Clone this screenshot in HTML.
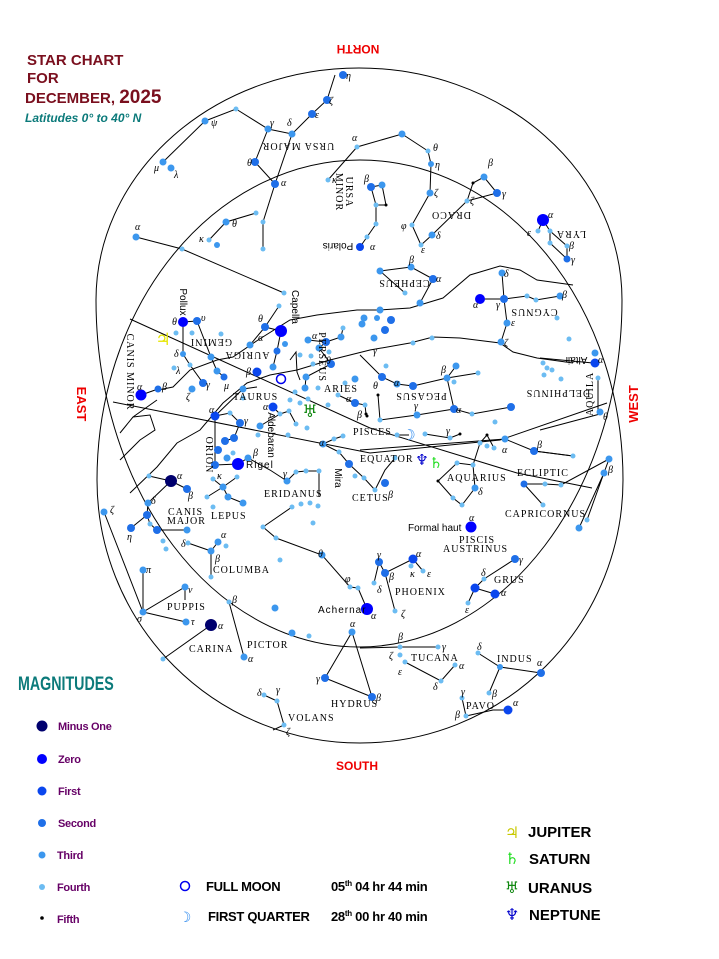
<!DOCTYPE html>
<html><head><meta charset="utf-8"><style>
html,body{margin:0;padding:0;background:#fff}
svg{display:block}
.m0{fill:#00006e}.m1{fill:#0000ff}.m2{fill:#0a46ee}.m3{fill:#1f6fe8}.m4{fill:#3c97ee}.m5{fill:#6cbcf2}.bk{fill:#000}
.l{stroke:#000;stroke-width:1;fill:none}
.c{font-family:"Liberation Serif",serif;font-size:10px;letter-spacing:1px;fill:#000}
.g{font-family:"Liberation Serif",serif;font-size:10px;font-style:italic;fill:#000}
.s{font-family:"Liberation Sans",sans-serif;font-size:10px;fill:#000}
.lg{font-family:"Liberation Sans",sans-serif;font-size:11px;font-weight:bold;fill:#660066;letter-spacing:-0.3px}
.bt{font-family:"Liberation Sans",sans-serif;font-size:13px;font-weight:bold;fill:#000;letter-spacing:-0.3px}
</style></head><body>
<svg width="719" height="959" viewBox="0 0 719 959" xmlns="http://www.w3.org/2000/svg">
<!-- titles -->
<text x="27" y="65" font-family="Liberation Sans,sans-serif" font-size="15" font-weight="bold" fill="#7a0f1e">STAR CHART</text>
<text x="27" y="83" font-family="Liberation Sans,sans-serif" font-size="15" font-weight="bold" fill="#7a0f1e">FOR</text>
<text x="25" y="103" font-family="Liberation Sans,sans-serif" font-size="15" font-weight="bold" fill="#7a0f1e">DECEMBER, <tspan font-size="19">2025</tspan></text>
<text x="25" y="122" font-family="Liberation Sans,sans-serif" font-size="12" font-weight="bold" font-style="italic" fill="#0b7a7a">Latitudes 0° to 40° N</text>

<text transform="translate(358,45) rotate(180)" text-anchor="middle" font-family="Liberation Sans,sans-serif" font-size="12" font-weight="bold" fill="#e00">NORTH</text>
<text transform="translate(77,404) rotate(90)" text-anchor="middle" font-family="Liberation Sans,sans-serif" font-size="13" font-weight="bold" fill="#e00">EAST</text>
<text transform="translate(638,404) rotate(-90)" text-anchor="middle" font-family="Liberation Sans,sans-serif" font-size="13" font-weight="bold" fill="#e00">WEST</text>
<text x="357" y="770" text-anchor="middle" font-family="Liberation Sans,sans-serif" font-size="12" font-weight="bold" fill="#e00">SOUTH</text>

<!-- horizon shapes -->
<path class="l" d="M96,300 A263,232 0 0 1 622,300 A263,347 0 0 1 96,300 Z"/>
<path class="l" d="M97,480 A263,320 0 0 1 623,480 A263,263 0 0 1 97,480 Z"/>

<!-- equator & ecliptic -->
<path class="l" d="M113,402 L370,453 L500,440 L607,403"/>
<path class="l" d="M130,319 L370,428 L517,473 L592,488"/>
<path class="l" d="M360,450 L505,439 M534,451 L573,456 M540,430 L600,414"/>
<!-- milky way -->
<path class="l" d="M158,390 L173,387 L190,370 L217,360 L233,357 L258,340 L290,320 L317,315 L357,310 L380,310 L410,308 L443,298 L470,275 L500,266 L520,270 L537,280 L573,285"/>
<path class="l" d="M120,433 L133,417 L157,400"/>
<path class="l" d="M130,493 L157,467 L177,443 L200,430 L223,403 L247,383 L270,375 L297,370 L330,360 L370,350 L410,343 L433,337 L460,338 L500,343 L513,352 L537,358 L573,363"/>
<path class="l" d="M133,417 L150,415 L155,430 L140,440 L120,460"/>
<path class="l" d="M290,360 L296,352 L297,372 L300,380"/>

<!-- constellation lines -->
<g class="l">
<path d="M205,121 L236,109 L268,129 L292,134 L312,114 L327,100 L335,75"/>
<path d="M205,121 L163,162"/>
<path d="M268,129 L255,162 L275,184 L292,134"/>
<path d="M275,184 L263,222 L263,249 M256,213 L226,222 L209,240"/>
<path d="M136,237 L182,249 L284,293"/>
<path d="M328,180 L357,147 L402,134 L428,151 L431,164 L430,193 L412,225 L421,245 L432,235 L467,201 L473,183 L484,177 L497,193 L467,201"/>
<path d="M371,187 L382,185 L386,205 L376,205 L371,187 M376,205 L376,224 L367,237 L360,247"/>
<path d="M543,220 L538,231 M543,220 L550,231 L567,246 L567,259 L550,243 L550,231"/>
<path d="M380,271 L411,267 L433,279 L420,303 M380,271 L405,293"/>
<path d="M502,273 L504,299 L507,323 L501,342 M504,299 L527,296 L536,300 L560,296 M480,299 L504,299"/>
<path d="M360,355 L382,377 L397,384 L413,386 L447,378 L456,366 M447,378 L478,373 M447,378 L454,409 L472,414 L511,407 M454,409 L417,415 L380,420 M378,395 L380,420"/>
<path d="M397,435 L409,435 M425,434 L450,438 L460,434 M480,443 L487,435 L494,448 M505,439 L534,451 L573,456"/>
<path d="M473,465 L457,463 L438,481 L453,498 L462,505 L475,488 L473,465 L480,443"/>
<path d="M524,484 L545,484 L561,485 L609,459 M524,484 L543,505 M604,473 L579,528 M609,459 L587,520"/>
<path d="M598,378 L598,412 M540,358 L593,363"/>
<path d="M183,322 L197,321 M183,322 L183,354 L190,365 L203,383 M197,321 L211,357 L217,371 L224,377"/>
<path d="M141,395 L158,389"/>
<path d="M279,306 L265,327 L250,345 M265,327 L281,331 L277,351 L273,367 M257,387 L243,389 L215,416"/>
<path d="M326,342 L308,340 M326,342 L341,337 L343,328 M326,342 L319,348 L331,364 L306,377 L305,388"/>
<path d="M355,403 L365,405 L366,414 M355,403 L338,395"/>
<path d="M273,407 L280,414 L289,411 L296,424 M280,414 L260,426"/>
<path d="M215,416 L215,465 L238,464 L248,458 M215,416 L230,413 L240,423 M225,441 L234,438 L240,423"/>
<path d="M323,444 L334,439 L343,436 M323,444 L339,452 L349,464 L364,478 L375,490 L385,470 L395,458"/>
<path d="M248,458 L270,470 L287,481 L296,472 L306,471 L319,471 L319,497"/>
<path d="M149,476 L171,481 L187,489 M171,481 L148,503"/>
<path d="M223,487 L213,479 M223,487 L237,477 M223,487 L207,497 M223,487 L228,497 L243,503"/>
<path d="M148,503 L147,515 L131,528 M147,515 L150,524 L157,530 L187,530"/>
<path d="M104,512 L143,612 L185,587 L185,600 M143,612 L186,622 M143,570 L143,612"/>
<path d="M218,542 L211,551 L188,543 M211,551 L211,577"/>
<path d="M163,659 L211,625 M229,602 L244,657"/>
<path d="M263,527 L292,507 M263,527 L276,538 L322,555 L350,587 L358,588 L367,609"/>
<path d="M352,632 L325,678 L372,697 L352,632"/>
<path d="M264,695 L277,701 L284,725 L273,730"/>
<path d="M379,562 L385,573 L413,559 L423,571 M379,562 L374,583 M385,573 L395,611"/>
<path d="M515,559 L484,579 L475,588 L495,594 M475,588 L468,603"/>
<path d="M360,648 L400,647 L438,647 M405,662 L441,681 L455,665"/>
<path d="M478,653 L500,667 L541,673 M500,667 L489,693"/>
<path d="M462,698 L466,716 L493,710 L508,710"/>
</g>

<!-- stars -->
<g>
<circle class="m3" cx="343" cy="75" r="4"/><circle class="m3" cx="327" cy="100" r="4"/><circle class="m3" cx="312" cy="114" r="4"/>
<circle class="m4" cx="292" cy="134" r="3.5"/><circle class="m4" cx="268" cy="129" r="3.5"/><circle class="m5" cx="236" cy="109" r="2.5"/>
<circle class="m4" cx="205" cy="121" r="3.5"/><circle class="m4" cx="163" cy="162" r="3.5"/><circle class="m4" cx="171" cy="168" r="3.5"/>
<circle class="m3" cx="255" cy="162" r="4"/><circle class="m3" cx="275" cy="184" r="4"/><circle class="m5" cx="263" cy="222" r="2.5"/><circle class="m5" cx="263" cy="249" r="2.5"/>
<circle class="m5" cx="256" cy="213" r="2.5"/><circle class="m4" cx="226" cy="222" r="3.5"/><circle class="m5" cx="209" cy="240" r="2.5"/><circle class="m4" cx="217" cy="245" r="3"/>
<circle class="m4" cx="136" cy="237" r="3.5"/><circle class="m5" cx="182" cy="249" r="2.5"/><circle class="m5" cx="284" cy="293" r="2.5"/>
<circle class="m5" cx="357" cy="147" r="2.5"/><circle class="m5" cx="328" cy="180" r="2.5"/><circle class="m4" cx="402" cy="134" r="3.5"/><circle class="m5" cx="428" cy="151" r="2.5"/><circle class="m4" cx="431" cy="164" r="3"/>
<circle class="m4" cx="430" cy="193" r="3.5"/><circle class="m5" cx="412" cy="225" r="2.5"/><circle class="m5" cx="421" cy="245" r="2.5"/><circle class="m4" cx="432" cy="235" r="3.5"/><circle class="m5" cx="467" cy="201" r="2.5"/><circle class="bk" cx="473" cy="183" r="1.5"/><circle class="m4" cx="484" cy="177" r="3.5"/><circle class="m3" cx="497" cy="193" r="4"/>
<circle class="m3" cx="371" cy="187" r="4"/><circle class="m4" cx="382" cy="185" r="3.5"/><circle class="bk" cx="386" cy="205" r="1.5"/><circle class="m5" cx="376" cy="205" r="2.5"/><circle class="m5" cx="376" cy="224" r="2.5"/><circle class="m5" cx="367" cy="237" r="2.5"/><circle class="m2" cx="360" cy="247" r="4"/>
<circle class="m1" cx="543" cy="220" r="6"/><circle class="m5" cx="538" cy="231" r="2.5"/><circle class="m5" cx="550" cy="231" r="2.5"/><circle class="m5" cx="550" cy="243" r="2.5"/><circle class="m5" cx="567" cy="246" r="2.5"/><circle class="m3" cx="567" cy="259" r="3.5"/>
<circle class="m4" cx="380" cy="271" r="3.5"/><circle class="m4" cx="411" cy="267" r="3.5"/><circle class="m3" cx="433" cy="279" r="4"/><circle class="m5" cx="405" cy="293" r="2.5"/><circle class="m4" cx="420" cy="303" r="3.5"/>
<circle class="m1" cx="480" cy="299" r="5"/><circle class="m3" cx="504" cy="299" r="4"/><circle class="m4" cx="502" cy="273" r="3.5"/><circle class="m5" cx="527" cy="296" r="2.5"/><circle class="m5" cx="536" cy="300" r="2.5"/><circle class="m4" cx="560" cy="296" r="3.5"/><circle class="m4" cx="507" cy="323" r="3.5"/><circle class="m4" cx="501" cy="342" r="3.5"/><circle class="m5" cx="569" cy="339" r="2.5"/>
<circle class="m4" cx="595" cy="353" r="3.5"/><circle class="m2" cx="595" cy="363" r="4.5"/><circle class="m5" cx="598" cy="378" r="2.5"/><circle class="m4" cx="600" cy="412" r="3.5"/>
<circle class="m5" cx="543" cy="363" r="2.5"/><circle class="m5" cx="547" cy="368" r="2.5"/><circle class="m5" cx="552" cy="370" r="2.5"/><circle class="m5" cx="544" cy="375" r="2.5"/><circle class="m5" cx="561" cy="379" r="2.5"/>
<circle class="m4" cx="380" cy="310" r="3.5"/><circle class="m4" cx="377" cy="318" r="3"/><circle class="m4" cx="364" cy="318" r="3.5"/><circle class="m3" cx="391" cy="320" r="4"/><circle class="m3" cx="385" cy="330" r="4"/><circle class="m4" cx="374" cy="338" r="3.5"/><circle class="m4" cx="362" cy="324" r="3.5"/>
<circle class="m5" cx="413" cy="343" r="2.5"/><circle class="m5" cx="432" cy="338" r="2.5"/><circle class="m5" cx="557" cy="318" r="2.5"/>
<circle class="m3" cx="382" cy="377" r="4"/><circle class="m4" cx="397" cy="384" r="3.5"/><circle class="m3" cx="413" cy="386" r="4"/><circle class="m4" cx="447" cy="378" r="3.5"/><circle class="m4" cx="456" cy="366" r="3.5"/><circle class="m5" cx="478" cy="373" r="2.5"/><circle class="m5" cx="454" cy="382" r="2.5"/>
<circle class="m3" cx="454" cy="409" r="4"/><circle class="m5" cx="472" cy="414" r="2.5"/><circle class="m3" cx="511" cy="407" r="4"/><circle class="m4" cx="417" cy="415" r="3.5"/><circle class="m5" cx="380" cy="420" r="2.5"/><circle class="bk" cx="378" cy="395" r="1.5"/><circle class="bk" cx="367" cy="416" r="1.5"/><circle class="m5" cx="495" cy="422" r="2.5"/><circle class="m5" cx="386" cy="366" r="2.5"/>
<circle class="m5" cx="397" cy="435" r="2.5"/><circle class="m5" cx="425" cy="434" r="2.5"/><circle class="m5" cx="450" cy="438" r="2.5"/><circle class="bk" cx="460" cy="434" r="1.5"/><circle class="bk" cx="487" cy="435" r="1.5"/><circle class="m5" cx="480" cy="443" r="2.5"/><circle class="m5" cx="487" cy="446" r="2.5"/><circle class="m5" cx="494" cy="448" r="2.5"/><circle class="m4" cx="505" cy="439" r="3.5"/><circle class="m3" cx="534" cy="451" r="4"/><circle class="m5" cx="573" cy="456" r="2.5"/>
<circle class="m5" cx="457" cy="463" r="2.5"/><circle class="m5" cx="473" cy="465" r="2.5"/><circle class="bk" cx="438" cy="481" r="1.5"/><circle class="m4" cx="475" cy="488" r="3.5"/><circle class="m5" cx="453" cy="498" r="2.5"/><circle class="m5" cx="462" cy="505" r="2.5"/>
<circle class="m3" cx="524" cy="484" r="3.5"/><circle class="m5" cx="545" cy="484" r="2.5"/><circle class="m5" cx="561" cy="485" r="2.5"/><circle class="m4" cx="609" cy="459" r="3.5"/><circle class="m4" cx="604" cy="473" r="3.5"/><circle class="m5" cx="543" cy="505" r="2.5"/><circle class="m4" cx="579" cy="528" r="3.5"/><circle class="m5" cx="587" cy="520" r="2.5"/>
<circle class="m1" cx="183" cy="322" r="5"/><circle class="m3" cx="197" cy="321" r="4"/><circle class="m5" cx="176" cy="333" r="2.5"/><circle class="m5" cx="192" cy="333" r="2.5"/><circle class="m5" cx="221" cy="334" r="2.5"/>
<circle class="m4" cx="183" cy="354" r="3"/><circle class="m5" cx="174" cy="368" r="2.5"/><circle class="m5" cx="190" cy="365" r="2.5"/><circle class="m4" cx="211" cy="357" r="3.5"/><circle class="m4" cx="217" cy="371" r="3.5"/><circle class="m3" cx="224" cy="377" r="3.5"/><circle class="m3" cx="203" cy="383" r="4"/><circle class="m4" cx="192" cy="389" r="3.5"/>
<circle class="m1" cx="141" cy="395" r="5.5"/><circle class="m3" cx="158" cy="389" r="3.5"/>
<circle class="m1" cx="281" cy="331" r="6"/><circle class="m3" cx="265" cy="327" r="4"/><circle class="m5" cx="279" cy="306" r="2.5"/><circle class="m4" cx="250" cy="345" r="3.5"/><circle class="m4" cx="285" cy="344" r="3"/><circle class="m3" cx="277" cy="351" r="3.5"/><circle class="m4" cx="273" cy="367" r="3.5"/><circle class="m2" cx="257" cy="372" r="4.5"/><circle class="m4" cx="243" cy="389" r="3.5"/>
<circle class="m3" cx="326" cy="342" r="4"/><circle class="m4" cx="308" cy="340" r="3.5"/><circle class="m4" cx="341" cy="337" r="3.5"/><circle class="m5" cx="343" cy="328" r="2.5"/><circle class="m4" cx="319" cy="348" r="3.5"/><circle class="m5" cx="329" cy="352" r="2.5"/><circle class="m3" cx="331" cy="364" r="4"/><circle class="m5" cx="313" cy="364" r="2.5"/><circle class="m4" cx="306" cy="377" r="3.5"/><circle class="m4" cx="305" cy="388" r="3.5"/><circle class="m5" cx="295" cy="392" r="2.5"/><circle class="m5" cx="300" cy="355" r="2.5"/><circle class="m5" cx="311" cy="356" r="2.5"/><circle class="m5" cx="308" cy="399" r="2.5"/><circle class="m5" cx="290" cy="400" r="2.5"/><circle class="m5" cx="318" cy="388" r="2.5"/><circle class="m5" cx="300" cy="403" r="2.5"/><circle class="m5" cx="328" cy="405" r="2.5"/>
<circle class="m3" cx="355" cy="403" r="4"/><circle class="m5" cx="365" cy="405" r="2.5"/><circle class="bk" cx="366" cy="414" r="1.5"/><circle class="m5" cx="338" cy="395" r="2.5"/><circle class="m4" cx="355" cy="379" r="3.5"/><circle class="m5" cx="345" cy="383" r="2.5"/>
<circle class="m2" cx="273" cy="407" r="4.5"/><circle class="m5" cx="280" cy="414" r="2.5"/><circle class="m5" cx="289" cy="411" r="2.5"/><circle class="m5" cx="296" cy="424" r="2.5"/><circle class="m4" cx="260" cy="426" r="3.5"/><circle class="m5" cx="258" cy="435" r="2.5"/><circle class="m5" cx="288" cy="435" r="2.5"/><circle class="m5" cx="307" cy="428" r="2.5"/><circle class="m5" cx="243" cy="398" r="2.5"/>
<circle class="m2" cx="215" cy="416" r="4.5"/><circle class="m5" cx="230" cy="413" r="2.5"/><circle class="m3" cx="240" cy="423" r="4"/><circle class="m3" cx="234" cy="438" r="4"/><circle class="m3" cx="225" cy="441" r="4"/><circle class="m3" cx="218" cy="450" r="4"/><circle class="m4" cx="227" cy="458" r="3.5"/><circle class="m5" cx="233" cy="453" r="2.5"/><circle class="m3" cx="215" cy="465" r="4"/><circle class="m1" cx="238" cy="464" r="6"/><circle class="m4" cx="248" cy="458" r="3.5"/>
<circle class="m3" cx="349" cy="464" r="4"/><circle class="m4" cx="323" cy="444" r="3.5"/><circle class="m5" cx="334" cy="439" r="2.5"/><circle class="m5" cx="343" cy="436" r="2.5"/><circle class="m5" cx="339" cy="452" r="2.5"/><circle class="m5" cx="364" cy="478" r="2.5"/><circle class="m5" cx="375" cy="490" r="2.5"/><circle class="m3" cx="385" cy="483" r="4"/><circle class="m5" cx="395" cy="458" r="2.5"/><circle class="m5" cx="355" cy="476" r="2.5"/>
<circle class="m4" cx="287" cy="481" r="3.5"/><circle class="m5" cx="296" cy="472" r="2.5"/><circle class="m5" cx="306" cy="471" r="2.5"/><circle class="m5" cx="319" cy="471" r="2.5"/>
<circle class="m0" cx="171" cy="481" r="6"/><circle class="m5" cx="149" cy="476" r="2.5"/><circle class="m3" cx="187" cy="489" r="4"/>
<circle class="m4" cx="223" cy="487" r="3.5"/><circle class="m5" cx="213" cy="479" r="2.5"/><circle class="m5" cx="237" cy="477" r="2.5"/><circle class="m5" cx="207" cy="497" r="2.5"/><circle class="m4" cx="228" cy="497" r="3.5"/><circle class="m4" cx="243" cy="503" r="3.5"/><circle class="m5" cx="213" cy="507" r="2.5"/>
<circle class="m4" cx="104" cy="512" r="3.5"/><circle class="m3" cx="147" cy="515" r="4"/><circle class="m4" cx="148" cy="503" r="3.5"/><circle class="m3" cx="131" cy="528" r="4"/><circle class="m5" cx="150" cy="524" r="2.5"/><circle class="m3" cx="157" cy="530" r="4"/><circle class="m4" cx="187" cy="530" r="3.5"/>
<circle class="m4" cx="143" cy="612" r="3.5"/><circle class="m4" cx="143" cy="570" r="3.5"/><circle class="m4" cx="185" cy="587" r="3.5"/><circle class="m4" cx="186" cy="622" r="3.5"/>
<circle class="m4" cx="218" cy="542" r="3.5"/><circle class="m5" cx="226" cy="546" r="2.5"/><circle class="m4" cx="211" cy="551" r="3.5"/><circle class="m5" cx="188" cy="543" r="2.5"/><circle class="m5" cx="211" cy="577" r="2.5"/><circle class="m5" cx="163" cy="541" r="2.5"/><circle class="m5" cx="166" cy="549" r="2.5"/>
<circle class="m0" cx="211" cy="625" r="6"/><circle class="m5" cx="163" cy="659" r="2.5"/><circle class="m5" cx="229" cy="602" r="2.5"/><circle class="m4" cx="244" cy="657" r="3.5"/>
<circle class="m4" cx="275" cy="608" r="3.5"/><circle class="m4" cx="292" cy="633" r="3.5"/><circle class="m5" cx="309" cy="636" r="2.5"/><circle class="m5" cx="280" cy="560" r="2.5"/>
<circle class="m5" cx="263" cy="527" r="2.5"/><circle class="m5" cx="276" cy="538" r="2.5"/><circle class="m4" cx="322" cy="555" r="3.5"/><circle class="m5" cx="350" cy="587" r="2.5"/><circle class="m5" cx="358" cy="588" r="2.5"/><circle class="m1" cx="367" cy="609" r="6"/><circle class="m5" cx="313" cy="523" r="2.5"/>
<circle class="m5" cx="292" cy="507" r="2.5"/><circle class="m5" cx="301" cy="504" r="2.5"/><circle class="m5" cx="310" cy="503" r="2.5"/><circle class="m5" cx="318" cy="506" r="2.5"/>
<circle class="m4" cx="352" cy="632" r="3.5"/><circle class="m3" cx="325" cy="678" r="4"/><circle class="m3" cx="372" cy="697" r="4"/>
<circle class="m5" cx="264" cy="695" r="2.5"/><circle class="m5" cx="277" cy="701" r="2.5"/><circle class="m5" cx="284" cy="725" r="2.5"/>
<circle class="m1" cx="471" cy="527" r="5.5"/>
<circle class="m3" cx="379" cy="562" r="4"/><circle class="m2" cx="413" cy="559" r="4.5"/><circle class="m3" cx="385" cy="573" r="4"/><circle class="m5" cx="374" cy="583" r="2.5"/><circle class="m5" cx="411" cy="566" r="2.5"/><circle class="m5" cx="423" cy="571" r="2.5"/><circle class="m5" cx="395" cy="611" r="2.5"/>
<circle class="m3" cx="515" cy="559" r="4"/><circle class="m5" cx="484" cy="579" r="2.5"/><circle class="m2" cx="475" cy="588" r="4.5"/><circle class="m2" cx="495" cy="594" r="4.5"/><circle class="m5" cx="468" cy="603" r="2.5"/>
<circle class="m5" cx="400" cy="647" r="2.5"/><circle class="m5" cx="400" cy="655" r="2.5"/><circle class="m5" cx="405" cy="662" r="2.5"/><circle class="m5" cx="438" cy="647" r="2.5"/><circle class="m5" cx="455" cy="665" r="2.5"/><circle class="m5" cx="441" cy="681" r="2.5"/>
<circle class="m5" cx="478" cy="653" r="2.5"/><circle class="m4" cx="500" cy="667" r="3"/><circle class="m3" cx="541" cy="673" r="4"/><circle class="m5" cx="489" cy="693" r="2.5"/>
<circle class="m5" cx="462" cy="698" r="2.5"/><circle class="m5" cx="466" cy="716" r="2.5"/><circle class="m2" cx="508" cy="710" r="4.5"/>
</g>

<!-- moon & planets on chart -->
<circle cx="281" cy="379" r="4.5" fill="none" stroke="#0000ee" stroke-width="1.5"/>
<text x="163" y="345" font-family="DejaVu Sans,sans-serif" font-size="17" fill="#e6e600" text-anchor="middle">♃</text>
<text x="310" y="417" font-family="DejaVu Sans,sans-serif" font-size="17" fill="#118811" text-anchor="middle">♅</text>
<text x="409" y="440" font-family="DejaVu Sans,sans-serif" font-size="15" fill="#2a88ee" text-anchor="middle">☽</text>
<text x="422" y="465" font-family="DejaVu Sans,sans-serif" font-size="15" fill="#0000cc" text-anchor="middle">♆</text>
<text x="436" y="468" font-family="DejaVu Sans,sans-serif" font-size="15" fill="#22dd22" text-anchor="middle">♄</text>

<!-- constellation labels (upright) -->
<text class="c" x="233" y="400">TAURUS</text>
<text class="c" x="324" y="392">ARIES</text>
<text class="c" x="353" y="435">PISCES</text>
<text class="c" x="360" y="462">EQUATOR</text>
<text class="c" x="447" y="481">AQUARIUS</text>
<text class="c" x="517" y="476">ECLIPTIC</text>
<text class="c" x="264" y="497">ERIDANUS</text>
<text class="c" x="352" y="501">CETUS</text>
<text class="c" x="168" y="515">CANIS</text>
<text class="c" x="167" y="524">MAJOR</text>
<text class="c" x="211" y="519">LEPUS</text>
<text class="c" x="505" y="517">CAPRICORNUS</text>
<text class="s" x="408" y="531">Formal haut</text>
<text class="c" x="459" y="543">PISCIS</text>
<text class="c" x="443" y="552">AUSTRINUS</text>
<text class="c" x="213" y="573">COLUMBA</text>
<text class="c" x="395" y="595">PHOENIX</text>
<text class="c" x="494" y="583">GRUS</text>
<text class="c" x="167" y="610">PUPPIS</text>
<text class="s" x="318" y="613" letter-spacing="1">Achernar</text>
<text class="c" x="189" y="652">CARINA</text>
<text class="c" x="247" y="648">PICTOR</text>
<text class="c" x="411" y="661">TUCANA</text>
<text class="c" x="497" y="662">INDUS</text>
<text class="c" x="331" y="707">HYDRUS</text>
<text class="c" x="466" y="709">PAVO</text>
<text class="c" x="288" y="721">VOLANS</text>
<text class="s" x="246" y="468" letter-spacing="1">Rigel</text>

<!-- rotated labels -->
<text class="c" transform="translate(298,143) rotate(180)" text-anchor="middle">URSA MAJOR</text>
<text class="s" transform="translate(338,243) rotate(180)" text-anchor="middle">Polaris</text>
<text class="c" transform="translate(451,212) rotate(180)" text-anchor="middle">DRACO</text>
<text class="c" transform="translate(571,231) rotate(180)" text-anchor="middle">LYRA</text>
<text class="c" transform="translate(404,280) rotate(180)" text-anchor="middle">CEPHEUS</text>
<text class="c" transform="translate(534,309) rotate(180)" text-anchor="middle">CYGNUS</text>
<text class="c" transform="translate(211,339) rotate(180)" text-anchor="middle">GEMINI</text>
<text class="c" transform="translate(247,352) rotate(180)" text-anchor="middle">AURIGA</text>
<text class="c" transform="translate(421,393) rotate(180)" text-anchor="middle">PEGASUS</text>
<text class="c" transform="translate(558,390) rotate(180)" text-anchor="middle">DELPHINUS</text>
<text class="s" transform="translate(576,357) rotate(180)" text-anchor="middle" font-size="9">Altair</text>
<text class="c" transform="translate(346,192) rotate(90)" text-anchor="middle">URSA</text>
<text class="c" transform="translate(336,192) rotate(90)" text-anchor="middle">MINOR</text>
<text class="s" transform="translate(180,302) rotate(90)" text-anchor="middle" font-size="9">Pollux</text>
<text class="s" transform="translate(292,307) rotate(90)" text-anchor="middle" font-size="9">Capella</text>
<text class="c" transform="translate(127,372) rotate(90)" text-anchor="middle">CANIS MINOR</text>
<text class="c" transform="translate(319,357) rotate(90)" text-anchor="middle">PERSEUS</text>
<text class="s" transform="translate(268,435) rotate(90)" text-anchor="middle" font-size="9">Aldebaran</text>
<text class="c" transform="translate(206,455) rotate(90)" text-anchor="middle">ORION</text>
<text class="s" transform="translate(335,478) rotate(90)" text-anchor="middle" font-size="9">Mira</text>
<text class="c" transform="translate(593,394) rotate(-90)" text-anchor="middle">AQUILA</text>

<!-- greek letters -->
<g class="g">
<text x="346" y="79">η</text><text x="329" y="104">ζ</text><text x="315" y="118">ε</text><text x="287" y="126">δ</text><text x="270" y="126">γ</text><text x="211" y="126">ψ</text><text x="154" y="171">μ</text><text x="174" y="178">λ</text><text x="247" y="166">θ</text><text x="281" y="186">α</text><text x="232" y="227">θ</text><text x="199" y="242">κ</text><text x="135" y="230">α</text>
<text x="332" y="183">κ</text><text x="352" y="141">α</text><text x="433" y="151">θ</text><text x="435" y="168">η</text><text x="434" y="196">ζ</text><text x="401" y="229">φ</text><text x="421" y="253">ε</text><text x="436" y="239">δ</text><text x="470" y="204">ζ</text><text x="488" y="166">β</text><text x="502" y="197">γ</text><text x="364" y="182">β</text><text x="370" y="250">α</text>
<text x="548" y="218">α</text><text x="527" y="236">ε</text><text x="569" y="249">β</text><text x="571" y="263">γ</text>
<text x="409" y="263">β</text><text x="436" y="282">α</text><text x="562" y="298">β</text><text x="511" y="326">ε</text><text x="504" y="346">ζ</text><text x="473" y="308">α</text><text x="496" y="308">γ</text><text x="504" y="277">δ</text>
<text x="394" y="386">α</text><text x="441" y="373">β</text><text x="456" y="413">α</text><text x="414" y="409">γ</text><text x="446" y="434">γ</text><text x="357" y="418">β</text><text x="373" y="354">γ</text><text x="373" y="389">θ</text>
<text x="502" y="453">α</text><text x="537" y="448">β</text><text x="478" y="495">δ</text><text x="603" y="420">θ</text><text x="598" y="363">α</text><text x="608" y="473">β</text>
<text x="172" y="325">θ</text><text x="201" y="321">υ</text><text x="174" y="357">δ</text><text x="176" y="374">λ</text><text x="206" y="388">γ</text><text x="186" y="400">ζ</text><text x="224" y="389">μ</text>
<text x="137" y="390">α</text><text x="162" y="390">β</text><text x="258" y="322">θ</text><text x="258" y="341">α</text><text x="246" y="375">β</text>
<text x="312" y="339">α</text><text x="326" y="364">θ</text><text x="263" y="410">α</text><text x="346" y="402">α</text>
<text x="209" y="413">α</text><text x="244" y="424">γ</text><text x="253" y="456">β</text><text x="217" y="479">κ</text><text x="319" y="446">α</text><text x="388" y="498">β</text>
<text x="283" y="477">γ</text><text x="177" y="479">α</text><text x="188" y="499">β</text><text x="151" y="504">δ</text><text x="127" y="540">η</text><text x="110" y="513">ζ</text>
<text x="221" y="538">α</text><text x="181" y="547">δ</text><text x="215" y="562">β</text><text x="146" y="573">π</text><text x="188" y="593">ν</text><text x="137" y="622">σ</text><text x="191" y="625">τ</text><text x="218" y="629">α</text>
<text x="232" y="603">β</text><text x="248" y="662">α</text><text x="318" y="557">θ</text><text x="345" y="582">φ</text><text x="371" y="619">α</text>
<text x="350" y="627">α</text><text x="316" y="682">γ</text><text x="376" y="701">β</text><text x="257" y="696">δ</text><text x="276" y="693">γ</text><text x="286" y="735">ζ</text>
<text x="469" y="521">α</text><text x="377" y="558">γ</text><text x="416" y="557">α</text><text x="389" y="580">β</text><text x="377" y="593">δ</text><text x="410" y="577">κ</text><text x="427" y="577">ε</text><text x="401" y="617">ζ</text>
<text x="519" y="563">γ</text><text x="481" y="576">δ</text><text x="501" y="596">α</text><text x="465" y="613">ε</text>
<text x="398" y="640">β</text><text x="389" y="659">ζ</text><text x="398" y="675">ε</text><text x="442" y="650">γ</text><text x="459" y="669">α</text><text x="433" y="690">δ</text>
<text x="477" y="650">δ</text><text x="537" y="666">α</text><text x="492" y="697">β</text><text x="461" y="695">γ</text><text x="455" y="718">β</text><text x="513" y="706">α</text>
</g>

<!-- legend -->
<text x="18" y="690" font-family="Liberation Sans,sans-serif" font-size="19" font-weight="bold" fill="#0b7a7a" transform="translate(18,690) scale(0.75,1) translate(-18,-690)">MAGNITUDES</text>
<circle class="m0" cx="42" cy="726" r="5.5"/><text class="lg" x="58" y="730">Minus One</text>
<circle class="m1" cx="42" cy="759" r="5"/><text class="lg" x="58" y="763">Zero</text>
<circle class="m2" cx="42" cy="791" r="4.5"/><text class="lg" x="58" y="795">First</text>
<circle class="m3" cx="42" cy="823" r="4"/><text class="lg" x="58" y="827">Second</text>
<circle class="m4" cx="42" cy="855" r="3.5"/><text class="lg" x="57" y="859">Third</text>
<circle class="m5" cx="42" cy="887" r="3"/><text class="lg" x="57" y="891">Fourth</text>
<circle class="bk" cx="42" cy="918" r="1.8"/><text class="lg" x="57" y="923">Fifth</text>

<!-- bottom info -->
<circle cx="185" cy="886" r="4.5" fill="none" stroke="#0000ee" stroke-width="1.5"/>
<text class="bt" x="206" y="891">FULL MOON</text>
<text class="bt" x="331" y="891">05<tspan font-size="8" dy="-5">th</tspan><tspan dy="5"> 04 hr  44 min</tspan></text>
<text x="185" y="922" font-family="DejaVu Sans,sans-serif" font-size="14" fill="#2a88ee" text-anchor="middle">☽</text>
<text class="bt" x="208" y="921">FIRST QUARTER</text>
<text class="bt" x="331" y="921">28<tspan font-size="8" dy="-5">th</tspan><tspan dy="5"> 00 hr  40 min</tspan></text>

<text x="512" y="838" font-family="DejaVu Sans,sans-serif" font-size="16" fill="#c8c800" text-anchor="middle">♃</text>
<text x="528" y="837" font-family="Liberation Sans,sans-serif" font-size="15" font-weight="bold">JUPITER</text>
<text x="512" y="864" font-family="DejaVu Sans,sans-serif" font-size="16" fill="#22dd22" text-anchor="middle">♄</text>
<text x="529" y="864" font-family="Liberation Sans,sans-serif" font-size="15" font-weight="bold">SATURN</text>
<text x="512" y="893" font-family="DejaVu Sans,sans-serif" font-size="16" fill="#118811" text-anchor="middle">♅</text>
<text x="528" y="893" font-family="Liberation Sans,sans-serif" font-size="15" font-weight="bold">URANUS</text>
<text x="512" y="920" font-family="DejaVu Sans,sans-serif" font-size="16" fill="#0000cc" text-anchor="middle">♆</text>
<text x="529" y="920" font-family="Liberation Sans,sans-serif" font-size="15" font-weight="bold">NEPTUNE</text>
</svg>
</body></html>
